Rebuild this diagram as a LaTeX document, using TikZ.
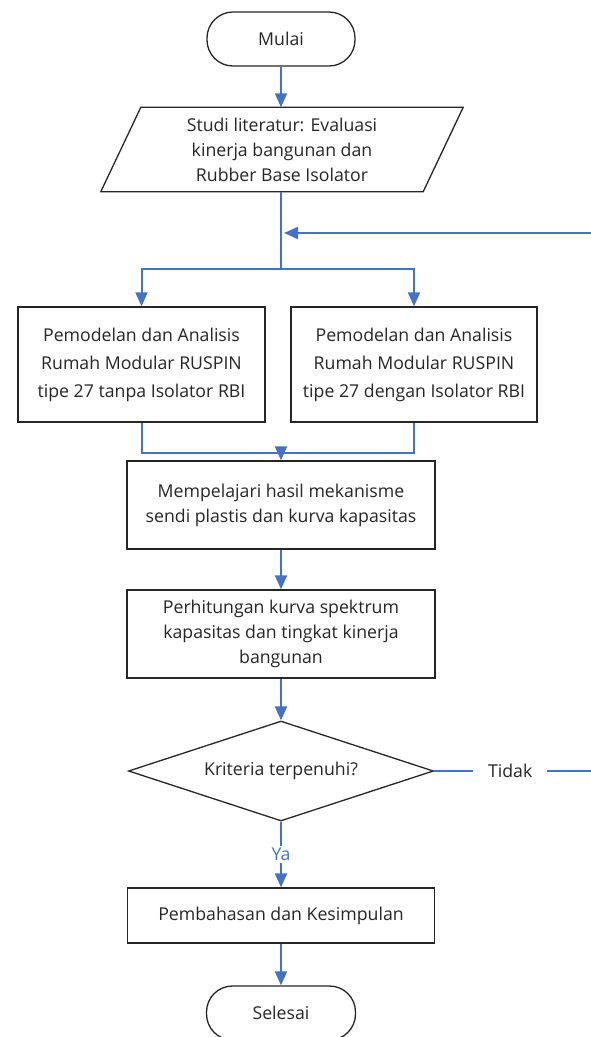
\documentclass[tikz,border=0pt]{standalone}
\usepackage{fontspec}
\setmainfont{Open Sans}
\usepackage{tikz}
\usetikzlibrary{shapes,arrows.meta}

\definecolor{garisbiru}{RGB}{68,114,196}
\definecolor{abutua}{RGB}{38,38,38}

\tikzset{
  kotak/.style={draw=abutua, line width=1.3pt, align=center, text=abutua, inner sep=0pt},
  terminal/.style={kotak, rounded corners=26pt},
  keputusan/.style={kotak, diamond, aspect=3.05},
  alir/.style={draw=garisbiru, line width=2pt, -{Triangle[length=14pt,width=12pt]}},
  garis/.style={draw=garisbiru, line width=2pt},
  teks/.style={font=\fontsize{17.7}{25}\selectfont},
  teksrenggang/.style={font=\fontsize{17.7}{28}\selectfont}
}

\begin{document}
\begin{tikzpicture}[x=1pt,y=-1pt]
  \useasboundingbox (0,0) rectangle (591,1037);

  %start and literature
  \node[terminal, teks, minimum width=148pt, minimum height=54pt] (mulai) at (281,39) {Mulai};
  \node[teks, align=center, text=abutua, minimum width=322pt, minimum height=84pt, inner sep=0pt] (studi) at (282,149.5) {Studi literatur: Evaluasi\\kinerja bangunan dan\\Rubber Base Isolator};
  \draw[kotak] ([xshift=20pt]studi.north west) -- ([xshift=20pt]studi.north east) -- ([xshift=-20pt]studi.south east) -- ([xshift=-20pt]studi.south west) -- cycle;

  %modelling boxes
  \node[kotak, teksrenggang, minimum width=247pt, minimum height=115pt] (kiri) at (141.5,364.5) {Pemodelan dan Analisis\\Rumah Modular RUSPIN\\tipe 27 tanpa Isolator RBI};
  \node[kotak, teksrenggang, minimum width=246pt, minimum height=115pt] (kanan) at (414,364.5) {Pemodelan dan Analisis\\Rumah Modular RUSPIN\\tipe 27 dengan Isolator RBI};

  %analysis
  \node[kotak, teks, minimum width=308pt, minimum height=88pt] (pelajari) at (281,505) {Mempelajari hasil mekanisme\\sendi plastis dan kurva kapasitas};
  \node[kotak, teks, minimum width=308pt, minimum height=88pt] (hitung) at (281,634) {Perhitungan kurva spektrum\\kapasitas dan tingkat kinerja\\bangunan};

  %decision
  \node[keputusan, teks, minimum width=305pt, minimum height=100pt] (kriteria) at (281,771) {Kriteria terpenuhi?};

  %end
  \node[kotak, teks, minimum width=307pt, minimum height=55pt] (bahas) at (281,915.5) {Pembahasan dan Kesimpulan};
  \node[terminal, teks, minimum width=149pt, minimum height=54pt] (selesai) at (281,1013) {Selesai};

  %helper points
  \coordinate (cabang) at (281,269);
  \coordinate (gabung) at (281,453);
  \coordinate (balikbawah) at (596,771);
  \coordinate (balikatas) at (596,233);
  \coordinate (masuk) at (284,233);

  %arrows
  \draw[alir] (mulai.south) -- (mulai.south |- studi.north);
  \draw[garis] (cabang |- studi.south) -- (cabang);
  \draw[alir] (cabang) -| (kiri);
  \draw[alir] (cabang) -| (kanan);
  \draw[garis] (kiri) |- (gabung);
  \draw[garis] (kanan) |- (gabung);
  \draw[alir] (gabung) -- (pelajari);
  \draw[alir] (pelajari) -- (hitung);
  \draw[alir] (hitung) -- (kriteria);
  \draw[alir] (kriteria) -- node[fill=white, teks, text=garisbiru, inner sep=2pt] (ya) {Ya} (bahas);
  \draw[alir] (bahas) -- (selesai);

  %loop back
  \draw[alir] (kriteria.east) -- node[pos=0.47, fill=white, teks, text=abutua, inner xsep=15pt, inner ysep=3pt] (tidak) {Tidak} (balikbawah) -- (balikatas) -- (masuk);

\end{tikzpicture}
\end{document}
